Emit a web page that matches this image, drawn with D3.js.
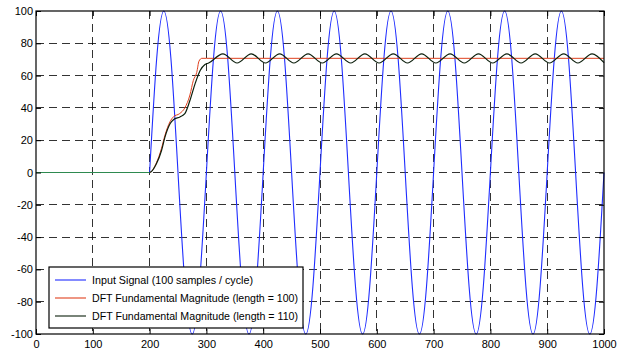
<!DOCTYPE html>
<html lang="en">
<head>
<meta charset="UTF-8">
<script src="https://d3js.org/d3.v7.min.js"></script>
<title>DFT fundamental magnitude</title>
<style>
  body { margin: 0; background: #fff; }
  text { font-family: "Liberation Sans", Arial, sans-serif; font-size: 11px; fill: #000; }
</style>
</head>
<body>
<svg width="623" height="354"></svg>
<script>
// input signal: flat until 200, then sine of 100 samples / cycle (read at 1/8 cycle steps)
const signalFlatT = [0, 200];
const signalFlatV = [0, 0];
const signalT = [200, 212.5, 225, 237.5, 250, 262.5, 275, 287.5,
  300, 312.5, 325, 337.5, 350, 362.5, 375, 387.5,
  400, 412.5, 425, 437.5, 450, 462.5, 475, 487.5,
  500, 512.5, 525, 537.5, 550, 562.5, 575, 587.5,
  600, 612.5, 625, 637.5, 650, 662.5, 675, 687.5,
  700, 712.5, 725, 737.5, 750, 762.5, 775, 787.5,
  800, 812.5, 825, 837.5, 850, 862.5, 875, 887.5,
  900, 912.5, 925, 937.5, 950, 962.5, 975, 987.5, 1000];
const signalV = [0, 70.7, 100, 70.7, 0, -70.7, -100, -70.7,
  0, 70.7, 100, 70.7, 0, -70.7, -100, -70.7,
  0, 70.7, 100, 70.7, 0, -70.7, -100, -70.7,
  0, 70.7, 100, 70.7, 0, -70.7, -100, -70.7,
  0, 70.7, 100, 70.7, 0, -70.7, -100, -70.7,
  0, 70.7, 100, 70.7, 0, -70.7, -100, -70.7,
  0, 70.7, 100, 70.7, 0, -70.7, -100, -70.7,
  0, 70.7, 100, 70.7, 0, -70.7, -100, -70.7, 0];

// DFT magnitude, window length 100
const dft100T = [0, 200, 212, 221, 227, 236, 242, 253, 262, 271, 277, 283, 287, 292, 300, 1000];
const dft100V = [0, 0, 6, 15, 23, 31.5, 34.5, 36.5, 40, 48, 57, 62, 69, 70.7, 70.7, 70.7];

// DFT magnitude, window length 110
const dft110T = [0, 200, 212, 221, 227, 236, 242, 253.5, 262, 271, 280, 289, 297.5, 304,
  329, 354, 379, 404, 429, 454, 479, 504, 529, 554, 579, 604, 629, 654, 679,
  704, 729, 754, 779, 804, 829, 854, 879, 904, 929, 954, 979, 1000];
const dft110V = [0, 0, 5.4, 13.6, 21.9, 30.2, 32.7, 34.4, 36.4, 44.6, 54.9, 63.2, 66.9, 67.8,
  73.5, 67.8, 73.5, 67.8, 73.5, 67.8, 73.5, 67.8, 73.5, 67.8, 73.5, 67.8, 73.5, 67.8, 73.5,
  67.8, 73.5, 67.8, 73.5, 67.8, 73.5, 67.8, 73.5, 67.8, 73.5, 67.8, 73.5, 68];

const xTicks = [0, 100, 200, 300, 400, 500, 600, 700, 800, 900, 1000];
const yTicks = [-100, -80, -60, -40, -20, 0, 20, 40, 60, 80, 100];
const legendLabels = ["Input Signal (100 samples / cycle)",
  "DFT Fundamental Magnitude (length = 100)",
  "DFT Fundamental Magnitude (length = 110)"];

const margin = { left: 36, right: 19, top: 11, bottom: 20 };
const W = 623, H = 354;
const svg = d3.select("svg");

const x = d3.scaleLinear().domain([0, 1000]).range([margin.left, W - margin.right]);
const y = d3.scaleLinear().domain([-100, 100]).range([H - margin.bottom, margin.top]);

// grid
const grid = svg.append("g").attr("stroke", "#000").attr("stroke-opacity", 0.8)
  .attr("stroke-dasharray", "8,5").attr("shape-rendering", "crispEdges");
grid.selectAll(".gx").data(xTicks.slice(1, -1)).enter().append("line")
  .attr("x1", d => x(d)).attr("x2", d => x(d)).attr("y1", y(100)).attr("y2", y(-100));
grid.selectAll(".gy").data(yTicks.slice(1, -1)).enter().append("line")
  .attr("y1", d => y(d)).attr("y2", d => y(d)).attr("x1", x(0)).attr("x2", x(1000));

// lines
const plot = svg.append("g");
const zip = (t, v) => t.map((d, i) => [d, v[i]]);
const straight = d3.line().x(d => x(d[0])).y(d => y(d[1]));
const smooth = d3.line().x(d => x(d[0])).y(d => y(d[1])).curve(d3.curveNatural);
const mono = d3.line().x(d => x(d[0])).y(d => y(d[1])).curve(d3.curveMonotoneX);

const colors = ["#1f2dff", "#e0401e", "#0c1f0c"];

plot.append("path").attr("d", straight(zip(signalFlatT, signalFlatV)))
  .attr("fill", "none").attr("stroke", colors[0]).attr("stroke-width", 1.1);
plot.append("path").attr("d", smooth(zip(signalT, signalV)))
  .attr("fill", "none").attr("stroke", colors[0]).attr("stroke-width", 1.1);
plot.append("path").attr("d", mono(zip(dft100T, dft100V)))
  .attr("fill", "none").attr("stroke", colors[1]).attr("stroke-width", 1);
plot.append("path").attr("d", mono(zip(dft110T, dft110V)))
  .attr("fill", "none").attr("stroke", colors[2]).attr("stroke-width", 1.2);
// the flat part of the last trace reads green in the picture
plot.append("path").attr("d", straight(zip(signalFlatT, signalFlatV)))
  .attr("fill", "none").attr("stroke", "#2e8a50").attr("stroke-width", 1.1);

// axes: ticks inside on all four sides
const tl = 5;
const fmt = d => String(d);
const axB = d3.axisBottom(x).tickValues(xTicks).tickFormat(fmt).tickSizeInner(-tl).tickSizeOuter(0).tickPadding(6);
const axT = d3.axisTop(x).tickValues(xTicks).tickSizeInner(-tl).tickSizeOuter(0).tickFormat("");
const axL = d3.axisLeft(y).tickValues(yTicks).tickFormat(fmt).tickSizeInner(-tl).tickSizeOuter(0).tickPadding(3);
const axR = d3.axisRight(y).tickValues(yTicks).tickSizeInner(-tl).tickSizeOuter(0).tickFormat("");

function styleAxis(g) {
  g.select(".domain").remove();
  g.selectAll("line").attr("stroke", "#000");
  g.selectAll("text").attr("font-family", "Liberation Sans, Arial, sans-serif")
    .attr("font-size", 11).attr("fill", "#000");
}
svg.append("g").attr("transform", `translate(0,${y(-100)})`).call(axB).call(styleAxis);
svg.append("g").attr("transform", `translate(0,${y(100)})`).call(axT).call(styleAxis);
svg.append("g").attr("transform", `translate(${x(0)},0)`).call(axL).call(styleAxis);
svg.append("g").attr("transform", `translate(${x(1000)},0)`).call(axR).call(styleAxis);

svg.append("rect").attr("x", x(0)).attr("y", y(100))
  .attr("width", x(1000) - x(0)).attr("height", y(-100) - y(100))
  .attr("fill", "none").attr("stroke", "#000").attr("stroke-width", 1.2);

// legend
const lg = svg.append("g").attr("transform", "translate(49,267)");
lg.append("rect").attr("width", 254).attr("height", 61)
  .attr("fill", "#fff").attr("stroke", "#000").attr("stroke-width", 1.2);
const rows = lg.selectAll(".row").data(legendLabels).enter().append("g")
  .attr("transform", (d, i) => `translate(0,${13 + i * 18})`);
rows.append("line").attr("x1", 6).attr("x2", 37).attr("y1", 0).attr("y2", 0)
  .attr("stroke", (d, i) => colors[i]).attr("stroke-width", 1.1);
rows.append("text").attr("x", 43).attr("dy", "0.35em").text(d => d)
  .attr("textLength", (d, i) => [161, 206, 206][i]).attr("lengthAdjust", "spacingAndGlyphs");
</script>
</body>
</html>
